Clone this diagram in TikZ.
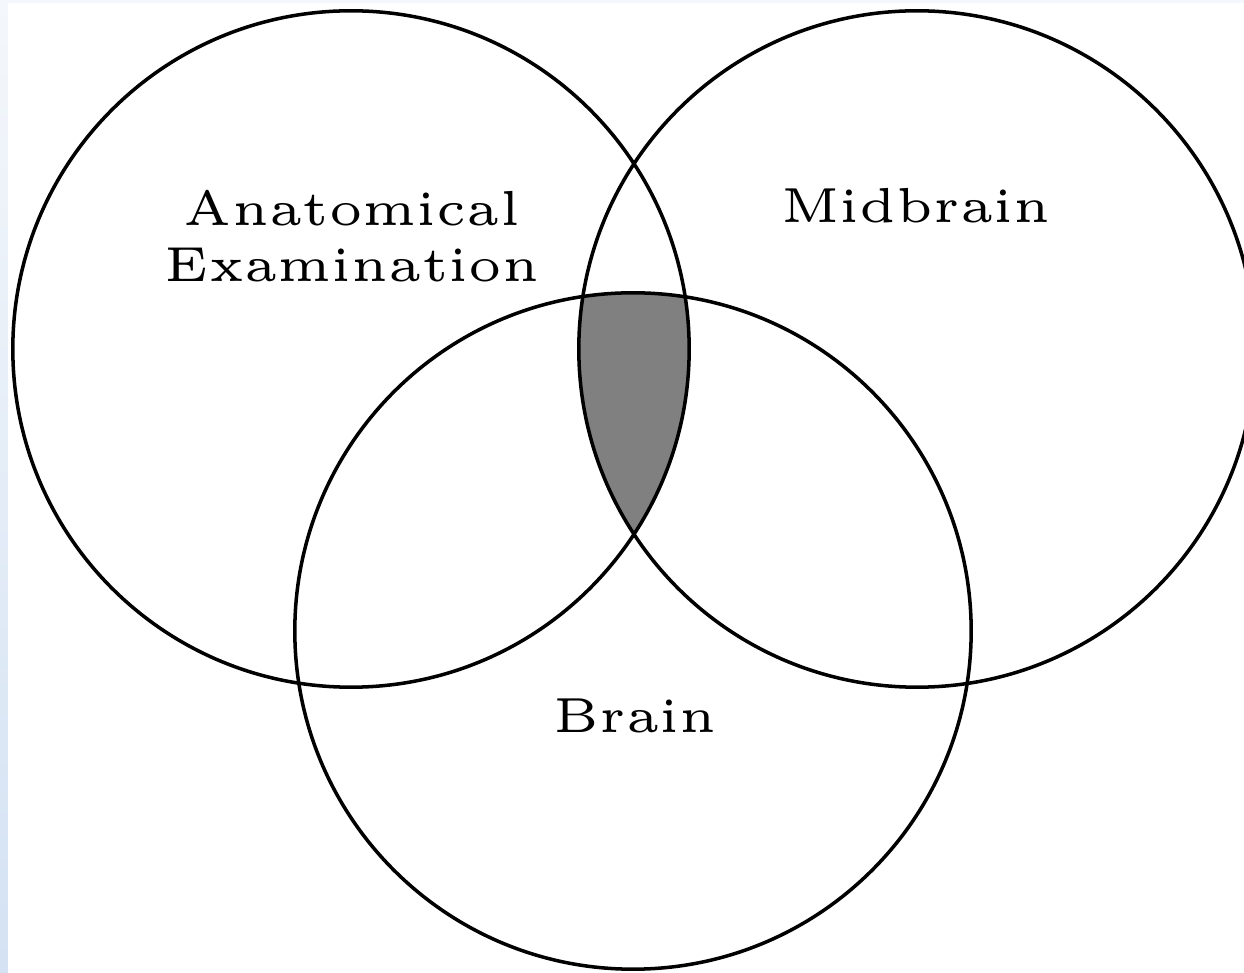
\documentclass[tikz,border=0pt]{standalone}
\definecolor{stripTop}{RGB}{244,247,251}
\definecolor{stripBot}{RGB}{212,226,243}
\begin{document}
\begin{tikzpicture}[x=0.01cm,y=-0.01cm,
  venn/.style={draw=black,line width=1pt},
  lbl/.style={inner sep=0pt,scale=2.8,font=\fontsize{5}{5.75}\selectfont,align=center}]
\useasboundingbox (0,0) rectangle (1244,973);
\clip (0,0) rectangle (1244,973);
\fill[white] (0,0) rectangle (1244,973);
\shade[top color=stripTop,bottom color=stripBot] (0,0) rectangle (8,973);
\fill[stripTop] (8,0) rectangle (1244,3);
\coordinate (cA) at (351,349);
\coordinate (cM) at (917,349);
\coordinate (cB) at (633,631);
\begin{scope}
  \clip (cA) circle[radius=3.38cm];
  \clip (cM) circle[radius=3.38cm];
  \fill[gray] (cB) circle[radius=3.38cm];
\end{scope}
\draw[venn] (cA) circle[radius=3.38cm];
\draw[venn] (cM) circle[radius=3.38cm];
\draw[venn] (cB) circle[radius=3.38cm];
\node[lbl] (tA) at (352,236) {Anatomical\\Examination};
\node[lbl,anchor=base] (tM) at (916,223) {Midbrain};
\node[lbl,anchor=base] (tB) at (635,733) {Brain};
\end{tikzpicture}
\end{document}
